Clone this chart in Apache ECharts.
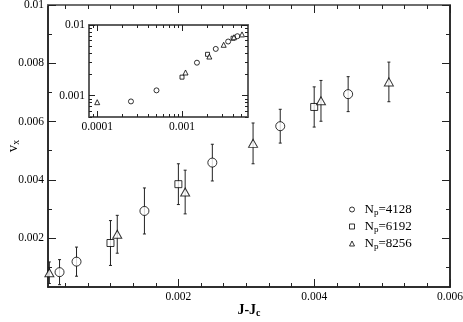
<!DOCTYPE html>
<html>
<head>
<meta charset="utf-8">
<script src="https://cdn.jsdelivr.net/npm/echarts@6/dist/echarts.min.js"></script>
<style>
html, body { margin: 0; padding: 0; background: #fff; }
#chart { width: 463px; height: 322px; }
</style>
</head>
<body>
<div id="chart"></div>
<script>
// data: x = J-Jc, y = vx, e = half error bar
var xCircle = [0.00025, 0.0005, 0.0015, 0.0025, 0.0035, 0.0045];
var yCircle = [0.00083, 0.00119, 0.00293, 0.00459, 0.00584, 0.00694];
var eCircle = [0.00043, 0.0005, 0.00079, 0.00063, 0.00058, 0.0006];

var xSquare = [0.001, 0.002, 0.004];
var ySquare = [0.00183, 0.00385, 0.0065];
var eSquare = [0.00077, 0.0007, 0.00069];

var xTri = [0.0001, 0.0011, 0.0021, 0.0031, 0.0041, 0.0051];
var yTri = [0.00081, 0.00213, 0.00358, 0.00525, 0.00671, 0.00736];
var eTri = [0.00037, 0.00065, 0.00075, 0.0007, 0.0007, 0.00068];

var names = ['N_p=4128', 'N_p=6192', 'N_p=8256'];

// tick positions
var xMajor = [0.002, 0.004, 0.006];
var xMinor = [0.000333, 0.000667, 0.001, 0.001333, 0.001667, 0.002333, 0.002667, 0.003, 0.003333, 0.003667,
	0.004333, 0.004667, 0.005, 0.005333, 0.005667];
var yMajor = [0.002, 0.004, 0.006, 0.008, 0.01];
var yMinor = [0.001, 0.003, 0.005, 0.007, 0.009];
var insetXMajor = [0.0001, 0.001];
var insetXMinor = [0.00009, 0.0002, 0.0003, 0.0004, 0.0005, 0.0006, 0.0007, 0.0008, 0.0009,
	0.002, 0.003, 0.004, 0.005];
var insetYMajor = [0.001, 0.01];
var insetYMinor = [0.0005, 0.0006, 0.0007, 0.0008, 0.0009, 0.002, 0.003, 0.004, 0.005, 0.006, 0.007, 0.008, 0.009];

var FONT = 'Liberation Serif';

function pts(xs, ys, es) {
	var out = [];
	for (var i = 0; i < xs.length; i++) {
		out.push(es ? [xs[i], ys[i], es[i]] : [xs[i], ys[i]]);
	}
	return out;
}

// one axis side: ticks inward, optional labels
function axis(grid, pos, type, min, max, ticks, len, labels, lineColor, lineWidth) {
	var a = {
		type: type,
		gridIndex: grid,
		position: pos,
		min: min,
		max: max,
		axisLine: { show: true, onZero: false, lineStyle: { color: lineColor, width: lineWidth } },
		axisTick: { show: true, inside: true, length: len, customValues: ticks, lineStyle: { color: '#222', width: 1 } },
		axisLabel: { show: false },
		splitLine: { show: false },
		minorTick: { show: false }
	};
	if (type == 'log') a.logBase = 10;
	if (labels) {
		a.axisLabel = {
			show: true,
			customValues: labels,
			margin: 4,
			color: '#000',
			fontFamily: FONT,
			fontSize: 11.5
		};
	}
	return a;
}

function renderErr(params, api) {
	var x = api.value(0), y = api.value(1), e = api.value(2);
	var hi = api.coord([x, y + e]);
	var lo = api.coord([x, y - e]);
	var st = { stroke: '#222', lineWidth: 1 };
	return {
		type: 'group',
		children: [
			{ type: 'line', shape: { x1: hi[0], y1: hi[1], x2: lo[0], y2: lo[1] }, style: st },
			{ type: 'line', shape: { x1: hi[0] - 1.5, y1: hi[1], x2: hi[0] + 1.5, y2: hi[1] }, style: st },
			{ type: 'line', shape: { x1: lo[0] - 1.5, y1: lo[1], x2: lo[0] + 1.5, y2: lo[1] }, style: st }
		]
	};
}

var hollow = { color: '#fff', borderColor: '#000', borderWidth: 1 };

var myChart = echarts.init(document.getElementById('chart'));

var xMin = 0.00008, xMax = 0.006;

option = {
	animation: false,
	backgroundColor: '#fff',
	textStyle: { fontFamily: FONT },
	grid: [
		{ left: 48, top: 5, right: 13, bottom: 35, outerBoundsMode: 'none', containLabel: false },
		{ left: 89, top: 25, right: 215, bottom: 205, outerBoundsMode: 'none', containLabel: false, show: true, backgroundColor: '#fff', borderWidth: 0 }
	],
	xAxis: [
		axis(0, 'bottom', 'value', xMin, xMax, xMajor, 8, xMajor, '#222', 1.5),
		axis(0, 'bottom', 'value', xMin, xMax, xMinor, 4, null, '#222', 1.5),
		axis(0, 'top', 'value', xMin, xMax, xMajor, 8, null, '#666', 1.5),
		axis(0, 'top', 'value', xMin, xMax, xMinor, 4, null, '#666', 1.5),
		axis(1, 'bottom', 'log', xMin, xMax, insetXMajor, 6, insetXMajor, '#555', 1.5),
		axis(1, 'bottom', 'log', xMin, xMax, insetXMinor, 3, null, '#555', 1.5),
		axis(1, 'top', 'log', xMin, xMax, insetXMajor, 6, null, '#555', 1.5),
		axis(1, 'top', 'log', xMin, xMax, insetXMinor, 3, null, '#555', 1.5)
	],
	yAxis: [
		axis(0, 'left', 'value', 0.00032, 0.01, yMajor, 8, yMajor, '#222', 1.5),
		axis(0, 'left', 'value', 0.00032, 0.01, yMinor, 4, null, '#222', 1.5),
		axis(0, 'right', 'value', 0.00032, 0.01, yMajor, 8, null, '#222', 1.5),
		axis(0, 'right', 'value', 0.00032, 0.01, yMinor, 4, null, '#222', 1.5),
		axis(1, 'left', 'log', 0.0005, 0.01, insetYMajor, 6, insetYMajor, '#555', 1.5),
		axis(1, 'left', 'log', 0.0005, 0.01, insetYMinor, 3, null, '#555', 1.5),
		axis(1, 'right', 'log', 0.0005, 0.01, insetYMajor, 6, null, '#555', 1.5),
		axis(1, 'right', 'log', 0.0005, 0.01, insetYMinor, 3, null, '#555', 1.5)
	],
	legend: {
		orient: 'vertical',
		left: 344,
		top: 198,
		itemWidth: 5,
		itemHeight: 5,
		itemGap: 3,
		data: [
			{ name: names[0], icon: 'circle', itemStyle: hollow },
			{ name: names[1], icon: 'rect', itemStyle: hollow },
			{ name: names[2], icon: 'triangle', itemStyle: hollow }
		],
		formatter: function (name) {
			var parts = name.split('_p');
			return '{g|}{n|' + parts[0] + '}{s|p}{n|' + parts[1] + '}';
		},
		textStyle: {
			color: '#000',
			rich: {
				g: { width: 5 },
				n: { fontFamily: FONT, fontSize: 13, color: '#000', lineHeight: 15 },
				s: { fontFamily: FONT, fontSize: 9, color: '#000', verticalAlign: 'bottom', lineHeight: 15 }
			}
		}
	},
	series: [
		{ type: 'custom', name: 'errCircle', xAxisIndex: 0, yAxisIndex: 0, renderItem: renderErr, data: pts(xCircle, yCircle, eCircle), z: 2 },
		{ type: 'custom', name: 'errSquare', xAxisIndex: 0, yAxisIndex: 0, renderItem: renderErr, data: pts(xSquare, ySquare, eSquare), z: 2 },
		{ type: 'custom', name: 'errTri', xAxisIndex: 0, yAxisIndex: 0, renderItem: renderErr, data: pts(xTri, yTri, eTri), z: 2 },
		{ type: 'scatter', name: names[0], xAxisIndex: 0, yAxisIndex: 0, symbol: 'circle', symbolSize: 9, itemStyle: hollow, data: pts(xCircle, yCircle), z: 3 },
		{ type: 'scatter', name: names[1], xAxisIndex: 0, yAxisIndex: 0, symbol: 'rect', symbolSize: 7, itemStyle: hollow, data: pts(xSquare, ySquare), z: 3 },
		{ type: 'scatter', name: names[2], xAxisIndex: 0, yAxisIndex: 0, symbol: 'triangle', symbolSize: [9, 8], itemStyle: hollow, data: pts(xTri, yTri), z: 3 },
		{ type: 'scatter', name: names[0], xAxisIndex: 4, yAxisIndex: 4, symbol: 'circle', symbolSize: 5, itemStyle: hollow, data: pts(xCircle, yCircle), z: 3 },
		{ type: 'scatter', name: names[1], xAxisIndex: 4, yAxisIndex: 4, symbol: 'rect', symbolSize: 4, itemStyle: hollow, data: pts(xSquare, ySquare), z: 3 },
		{ type: 'scatter', name: names[2], xAxisIndex: 4, yAxisIndex: 4, symbol: 'triangle', symbolSize: [5, 5], itemStyle: hollow, data: pts(xTri, yTri), z: 3 }
	]
};

// axis titles
option.xAxis[0].name = '{b|J-J}{s|c}';
option.xAxis[0].nameLocation = 'middle';
option.xAxis[0].nameGap = 15;
option.xAxis[0].nameMoveOverlap = false;
option.xAxis[0].nameTextStyle = {
	rich: {
		b: { fontFamily: FONT, fontSize: 14, fontWeight: 'bold', color: '#000', lineHeight: 16 },
		s: { fontFamily: FONT, fontSize: 10, fontWeight: 'bold', color: '#000', verticalAlign: 'bottom', lineHeight: 16 }
	}
};
option.yAxis[0].name = '{v|v}{s|x}';
option.yAxis[0].nameLocation = 'middle';
option.yAxis[0].nameGap = 27;
option.yAxis[0].nameMoveOverlap = false;
option.yAxis[0].nameTextStyle = {
	rich: {
		v: { fontFamily: FONT, fontSize: 15, color: '#000', lineHeight: 16 },
		s: { fontFamily: FONT, fontSize: 10, color: '#000', verticalAlign: 'bottom', lineHeight: 16 }
	}
};

myChart.setOption(option, true);
</script>
</body>
</html>
